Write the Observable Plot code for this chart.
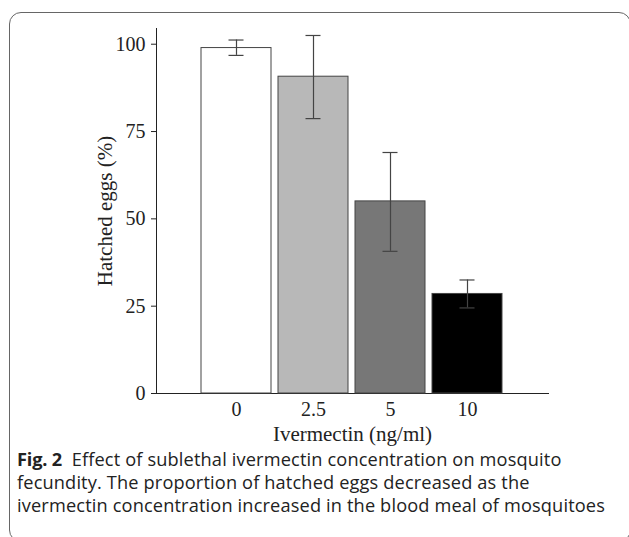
<!DOCTYPE html>
<html>
<head>
<meta charset="utf-8">
<script src="https://cdn.jsdelivr.net/npm/d3@7"></script>
<script src="https://cdn.jsdelivr.net/npm/@observablehq/plot@0.6"></script>
<style>
  html, body { margin: 0; padding: 0; background: #fff; }
  #wrap { position: relative; width: 629px; height: 537px; overflow: hidden; }
  #frame { position: absolute; left: 9px; top: 12px; width: 622px; height: 530px;
           border: 1.4px solid #666; border-radius: 12px; box-sizing: border-box; }
  #chart { position: absolute; left: 0; top: 0; }
  #caption { position: absolute; left: 17px; top: 448px; width: 612px; white-space: nowrap;
             font-family: "Open Sans", sans-serif; font-size: 18.2px; line-height: 23px;
             color: #222; letter-spacing: 0.15px; }
  #caption b { font-weight: 700; letter-spacing: -0.2px; }
</style>
</head>
<body>
<div id="wrap">
  <div id="frame"></div>
  <div id="chart"></div>
  <div id="caption"><b>Fig. 2</b>&nbsp; Effect of sublethal ivermectin concentration on mosquito<br>fecundity. The proportion of hatched eggs decreased as the<br>ivermectin concentration increased in the blood meal of mosquitoes</div>
</div>
<script>
const concentrations = ["0", "2.5", "5", "10"];
const hatched = [98.9, 90.7, 55.0, 28.5];
const errLow = [96.8, 78.7, 40.7, 24.5];
const errHigh = [101.2, 102.5, 69.0, 32.5];
const barFills = ["#ffffff", "#b8b8b8", "#777777", "#000000"];
const yTicks = [0, 25, 50, 75, 100];
const xTitle = "Ivermectin (ng/ml)";
const yTitle = "Hatched eggs (%)";

const data = concentrations.map((c, i) => ({
  conc: c, value: hatched[i], lo: errLow[i], hi: errHigh[i], fill: barFills[i]
}));

const chart = Plot.plot({
  width: 629,
  height: 450,
  marginTop: 28,
  marginBottom: 57,
  marginLeft: 156,
  marginRight: 81,
  style: { fontFamily: "'Liberation Serif', 'Times New Roman', serif", fontSize: "20px", color: "#222", background: "transparent" },
  x: { domain: concentrations, paddingInner: 0.09, paddingOuter: 0.58, label: null, tickSize: 0, tickPadding: 8, line: true },
  y: { domain: [0, 104.5], ticks: yTicks, label: null, tickSize: 5, tickPadding: 6, line: true },
  marks: [
    Plot.barY(data, { x: "conc", y: "value", fill: d => d.fill, stroke: "#444", strokeWidth: 1 }),
    Plot.ruleX(data, { x: "conc", y1: "lo", y2: "hi", stroke: "#444", strokeWidth: 1.2 }),
    Plot.tickY(data, { x: "conc", y: "lo", stroke: "#444", strokeWidth: 1.2, insetLeft: 27.5, insetRight: 27.5 }),
    Plot.tickY(data, { x: "conc", y: "hi", stroke: "#444", strokeWidth: 1.2, insetLeft: 27.5, insetRight: 27.5 }),
    Plot.text([yTitle], { frameAnchor: "left", dx: -51, rotate: -90, textAnchor: "middle", fontSize: 21, fill: "#222", text: d => d }),
    Plot.text([xTitle], { frameAnchor: "bottom", dy: 47, fontSize: 21, fill: "#222", text: d => d })
  ]
});
document.getElementById("chart").appendChild(chart);
</script>
</body>
</html>
